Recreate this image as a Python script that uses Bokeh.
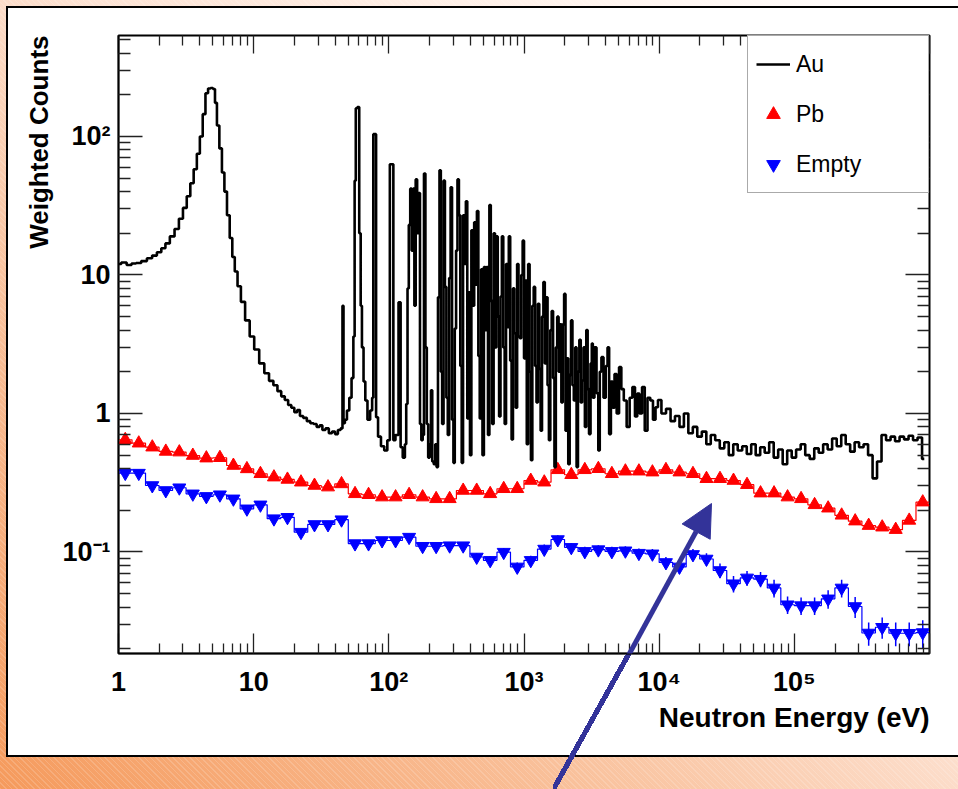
import numpy as np
from bokeh.plotting import figure
from bokeh.models import (LogAxis, FixedTicker, CustomJSTickFormatter, Legend, LegendItem,
                          Arrow, NormalHead, Title, Range1d)
from bokeh.embed import file_html
from bokeh.resources import INLINE

# ---------------- data ----------------
# Au spectrum (energy in eV, weighted counts)
au_energy = [1.0, 1.1, 1.2, 1.3, 1.4, 1.55, 1.7, 1.85, 2.0, 2.15, 2.3, 2.5, 2.7, 2.9, 3.1, 3.3, 3.5, 3.7,
             3.9, 4.1, 4.3, 4.5, 4.7, 4.9, 5.1, 5.25, 5.45, 5.7, 5.95, 6.2, 6.5, 6.8, 7.1, 7.4, 7.8, 8.3,
             9.0, 9.7, 10.5, 11.5, 12.5, 13.5, 14.5, 15.5, 16.5, 17.5, 18.5, 19.5, 20.5, 21.5, 22.5, 24,
             25.5, 27, 28.5, 30, 31.5, 33, 35, 37, 39, 41, 43, 45, 45.8, 46.6, 48, 50, 52, 54, 55.3, 56.4,
             57.5, 59.5, 61.3, 62.5, 64, 66, 68, 71, 74.5, 76, 77.5, 79.5, 81.5, 85, 90, 95, 100, 103.5,
             107, 109, 115, 121, 123.5,
             130, 133, 136, 139, 142, 146, 149, 153, 156, 160, 164, 168, 172, 176, 180, 184, 189, 193,
             198, 203, 207, 212, 218, 223, 228, 234, 240, 245, 251, 257, 263, 270, 276, 283, 290, 297,
             304, 311, 318, 326, 334, 342, 350, 358, 367, 376, 385, 394, 403, 413, 423, 433, 443, 454,
             465, 476, 487, 499, 511, 523, 535, 548, 561, 575, 589, 603, 617, 632, 647, 662, 678, 694,
             711, 728, 745, 763, 781, 800, 819, 838, 858, 879, 900, 921, 943, 966, 989, 1012, 1036,
             1061, 1087, 1113, 1139, 1166, 1194, 1223, 1252, 1282, 1312, 1343, 1375, 1408, 1442, 1476,
             1511, 1547, 1584, 1622, 1660, 1700, 1740, 1782, 1824, 1868, 1912, 1958, 2004, 2052, 2101,
             2151, 2203, 2255, 2309, 2364, 2421, 2478, 2537, 2598, 2660, 2723, 2788, 2855, 2923, 2992,
             3064, 3150, 3200, 3260, 3380, 3500, 3590, 3680, 3800, 3950, 4100, 4200, 4330,
             4460, 4600, 4750, 4950, 5150, 5350, 5600, 5900, 6200, 6480, 6770, 7000, 7300, 7650, 8000,
             8400, 8800, 9200, 9600, 10000, 10800, 11700, 12600, 13600, 14700, 15800, 17100, 18400,
             19900, 21500, 23200, 25000, 27000, 29200, 31500, 34000, 36700, 39600, 42800, 46200,
             49800, 53800, 58100, 62700, 67700, 73100, 78900, 85200, 92000, 99300, 107000, 116000,
             125000, 135000, 146000, 157000, 170000, 183000, 198000, 214000, 231000, 249000, 269000,
             290000, 313000, 338000, 365000, 394000, 425000, 459000, 496000, 535000, 578000, 624000,
             674000, 727000, 785000, 848000, 915000, 988000]
au_counts = [12.0, 12.3, 11.8, 12.1, 12.2, 12.6, 13.2, 13.8, 14.6, 15.6, 16.9, 19.0, 21.5, 25.5, 30.5,
             37, 46, 58, 75, 100, 145, 205, 222, 224, 220, 175, 120, 82, 55, 40, 27, 18.5, 13.5, 10.6,
             8.3, 6.4, 4.7, 3.6, 2.9, 2.3, 1.95, 1.72, 1.6, 1.45, 1.33, 1.25, 1.15, 1.1, 1.02, 1.06,
             0.96, 0.93, 0.88, 0.85, 0.84, 0.80, 0.82, 0.76, 0.78, 0.72, 0.74, 0.71, 0.76, 0.78, 6.0,
             0.85, 0.9, 1.05, 1.3, 1.8, 3.6, 48, 160, 163, 20, 6, 3.0, 1.7, 1.24, 0.9, 1.05, 1.3, 104,
             104, 0.94, 0.68, 0.58, 0.54, 0.64, 63, 63, 0.64, 0.7, 6.35, 0.57,
             0.48, 0.6, 1.17, 8, 23, 42, 15, 42, 6, 49, 20, 39, 0.84, 0.64, 0.7, 54, 3, 0.84,
             0.48, 0.6, 1.47, 0.45, 0.43, 0.6, 0.41, 6.9, 57, 2.0, 0.84, 48, 8.2, 1.3, 0.7, 9.5, 43, 0.9,
             0.44, 4.1, 15, 49, 27, 2.2, 0.44, 27, 12, 34, 0.92, 7.5, 0.5, 21, 6, 24, 8.5, 29,
             2.6, 0.92, 11, 0.5, 11.4, 4, 11.4, 0.7, 32, 6.5, 0.84, 20, 3, 19, 5, 0.95, 7, 19,
             3, 0.84, 12, 4.2, 19, 2.4, 0.65, 8, 3.8, 1.1, 12, 3.6, 3.5, 10, 17.7, 2.5, 9.1,
             0.6, 12, 2, 0.46, 6, 8.2, 2.2, 1.2, 6.2, 2.1, 0.75, 5, 8.9, 2.3, 6.9,
             1.6, 0.64, 4, 5.5, 1.8, 0.41, 3, 5.0, 2.0, 4.4, 1.2, 4.4, 7.3, 0.75, 2.5,
             0.43, 1.9, 4.7, 1.6, 1.24, 3.0, 0.41, 2.0, 3.4, 1.2, 1.73, 3.0, 0.8, 4.0, 1.5,
             0.71, 2.3, 3.2, 1.3, 3.0, 1.4, 0.54, 2.0, 2.55, 1.3, 2.2, 3.0, 0.71, 1.7,
             1.1, 1.93, 1.0, 2.16, 1.5, 1.24, 0.8, 1.3, 1.55, 0.95, 1.39, 1.0, 1.55, 0.75, 1.3, 1.24,
             0.9, 1.11, 1.25, 1.0, 1.08, 0.88, 0.96, 0.8, 1.0, 0.72, 0.8, 0.68, 0.74, 0.6, 0.7, 0.64,
             0.56, 0.62, 0.5, 0.6, 0.54, 0.58, 0.51, 0.6, 0.5, 0.57, 0.52, 0.62, 0.48, 0.55, 0.43,
             0.54, 0.48, 0.55, 0.6, 0.5, 0.47, 0.56, 0.52, 0.6, 0.55, 0.66, 0.58, 0.7, 0.6, 0.53, 0.62,
             0.57, 0.6, 0.5, 0.34, 0.45, 0.7, 0.64, 0.68, 0.63, 0.68, 0.65, 0.69, 0.64, 0.67, 0.47]

# Pb and Empty: 60 logarithmic bins, 10 per decade, from 1 eV to 1 MeV
bin_edges = np.logspace(0, 6, 61)
pb_counts = [0.646, 0.61, 0.571, 0.532, 0.526, 0.497, 0.476, 0.479, 0.421, 0.398,
             0.367, 0.347, 0.334, 0.319, 0.302, 0.294, 0.31, 0.263, 0.259, 0.249,
             0.249, 0.259, 0.249, 0.242, 0.242, 0.278, 0.278, 0.263, 0.286, 0.286,
             0.328, 0.319, 0.392, 0.361, 0.392, 0.399, 0.367, 0.383, 0.383, 0.377,
             0.392, 0.377, 0.367, 0.338, 0.338, 0.328, 0.306, 0.266, 0.266, 0.249,
             0.242, 0.219, 0.207, 0.184, 0.167, 0.155, 0.151, 0.145, 0.169, 0.229]
pb_err = [0.012, 0.012, 0.011, 0.011, 0.011, 0.010, 0.010, 0.010, 0.009, 0.009,
          0.009, 0.008, 0.008, 0.008, 0.008, 0.008, 0.008, 0.007, 0.007, 0.007,
          0.007, 0.007, 0.007, 0.007, 0.007, 0.008, 0.008, 0.007, 0.008, 0.008,
          0.008, 0.008, 0.009, 0.009, 0.009, 0.009, 0.009, 0.009, 0.009, 0.009,
          0.009, 0.009, 0.009, 0.008, 0.008, 0.008, 0.008, 0.007, 0.007, 0.007,
          0.007, 0.007, 0.007, 0.006, 0.006, 0.006, 0.006, 0.006, 0.007, 0.008]
empty_counts = [0.371, 0.371, 0.302, 0.278, 0.291, 0.263, 0.252, 0.259, 0.242, 0.205,
                0.219, 0.174, 0.178, 0.139, 0.158, 0.158, 0.171, 0.115, 0.115, 0.121,
                0.121, 0.128, 0.110, 0.110, 0.111, 0.111, 0.092, 0.087, 0.0997, 0.078,
                0.087, 0.105, 0.123, 0.108, 0.101, 0.104, 0.101, 0.102, 0.098, 0.097,
                0.084, 0.078, 0.096, 0.089, 0.0735, 0.059, 0.065, 0.0636, 0.055, 0.0416,
                0.041, 0.041, 0.0459, 0.055, 0.0404, 0.026, 0.0286, 0.0259, 0.0259, 0.0262]
empty_err = [0.012, 0.012, 0.010, 0.010, 0.010, 0.009, 0.009, 0.009, 0.009, 0.008,
             0.008, 0.007, 0.007, 0.006, 0.007, 0.007, 0.007, 0.006, 0.006, 0.006,
             0.006, 0.007, 0.006, 0.006, 0.006, 0.006, 0.006, 0.006, 0.007, 0.006,
             0.007, 0.008, 0.009, 0.008, 0.008, 0.008, 0.008, 0.008, 0.008, 0.008,
             0.008, 0.008, 0.009, 0.009, 0.009, 0.008, 0.008, 0.008, 0.008, 0.006,
             0.006, 0.006, 0.007, 0.008, 0.007, 0.005, 0.005, 0.005, 0.005, 0.006]

x_major = [1, 10, 100, 1e3, 1e4, 1e5, 1e6]
y_major = [0.1, 1, 10, 100]

# ---------------- figure ----------------
W, H = 958, 789
p = figure(width=W, height=H, x_axis_type="log", y_axis_type="log",
           x_range=Range1d(1, 1e6), y_range=Range1d(0.01849, 536),
           output_backend="svg", toolbar_location=None,
           min_border_left=118, min_border_right=29, min_border_top=35, min_border_bottom=136)
p.border_fill_color = None
p.background_fill_color = "white"
p.outline_line_color = "black"
p.outline_line_width = 2
p.grid.visible = False

# page decoration (slide background, white panel with black frame, lower part of the arrow shaft)
p.styles = {
    "background": (
        "linear-gradient(to bottom right, rgba(51,51,153,0) calc(50% - 2.6px), #333399 calc(50% - 2.6px), "
        "#333399 calc(50% + 2.6px), rgba(51,51,153,0) calc(50% + 2.6px)) 553px 650px / 78px 140px no-repeat, "
        "linear-gradient(#ffffff, #ffffff) 8px 8px / 1000px 747px no-repeat, "
        "linear-gradient(#000000, #000000) 6px 6px / 1000px 751px no-repeat, "
        "repeating-linear-gradient(45deg, rgba(255,255,255,0.16) 0px, rgba(255,255,255,0.16) 1px, "
        "rgba(255,255,255,0) 1px, rgba(255,255,255,0) 4px), "
        "linear-gradient(to top right, #f59a5c 0%, #f9c09a 30%, #fde3d4 55%, #fff4ee 80%, #ffffff 100%)"
    )
}

minor_x = [m * 10 ** d for d in range(0, 6) for m in range(2, 10)]
minor_y = [m * 10 ** d for d in range(-2, 3) for m in range(2, 10)]
xt = FixedTicker(ticks=x_major, minor_ticks=minor_x)
yt = FixedTicker(ticks=y_major, minor_ticks=minor_y)

fmt = CustomJSTickFormatter(code="""
const e = Math.round(Math.log10(tick));
const sup = {"-1": "\u207b\u00b9", "2": "\u00b2", "3": "\u00b3", "4": "\u2074", "5": "\u2075"};
if (e === 0) return "1";
if (e === 1) return "10";
if (e >= 6) return "";
return "10" + sup[String(e)];
""")
blank = CustomJSTickFormatter(code="return '';")

xa = p.xaxis[0]
ya = p.yaxis[0]
xa.ticker = xt
ya.ticker = yt
for ax in (xa, ya):
    ax.formatter = fmt
    ax.major_label_text_font = "Liberation Sans"
    ax.major_label_text_font_style = "bold"
    ax.major_label_text_font_size = "27px"
    ax.major_label_text_color = "black"
    ax.axis_line_color = "black"
    ax.axis_line_width = 1.5
    ax.major_tick_line_color = "#222222"
    ax.minor_tick_line_color = "#222222"
    ax.major_tick_line_width = 1.3
    ax.minor_tick_line_width = 1.3
    ax.major_tick_out = 0
    ax.minor_tick_out = 0
xa.major_tick_in = 20
xa.minor_tick_in = 10
xa.major_label_standoff = 13
ya.major_tick_in = 24
ya.minor_tick_in = 12
ya.major_label_standoff = 8

top = LogAxis(ticker=xt, formatter=blank, major_tick_in=18, minor_tick_in=10, major_tick_out=0,
              minor_tick_out=0, major_label_text_font_size="1px", axis_line_color=None,
              major_tick_line_color="#222222", minor_tick_line_color="#222222",
              major_tick_line_width=1.3, minor_tick_line_width=1.3, major_label_standoff=0)
right = LogAxis(ticker=yt, formatter=blank, major_tick_in=24, minor_tick_in=12, major_tick_out=0,
                minor_tick_out=0, major_label_text_font_size="1px", axis_line_color=None,
                major_tick_line_color="#222222", minor_tick_line_color="#222222",
                major_tick_line_width=1.3, minor_tick_line_width=1.3, major_label_standoff=0)
p.add_layout(top, "above")
p.add_layout(right, "right")

# axis titles (ROOT style: aligned to the end of the axis)
p.add_layout(Title(text="Weighted Counts", align="right", standoff=12,
                   text_font="Liberation Sans", text_font_style="bold", text_font_size="26px",
                   text_color="black"), "left")
p.add_layout(Title(text="Neutron Energy (eV)", align="right", standoff=0,
                   text_font="Liberation Sans", text_font_style="bold", text_font_size="28px",
                   text_color="black"), "below")

# ---------------- glyphs ----------------
edges = np.asarray(bin_edges)
centers = np.sqrt(edges[:-1] * edges[1:])
step_x = np.repeat(edges, 2)[1:-1]

pb = np.asarray(pb_counts)
pbe = np.asarray(pb_err)
em = np.asarray(empty_counts)
eme = np.asarray(empty_err)

p.line(step_x, np.repeat(pb, 2), line_color="red", line_width=1.2)
p.segment(centers, pb - pbe, centers, pb + pbe, line_color="red", line_width=1.5)
pb_pts = p.scatter(centers, pb, marker="triangle", size=13, fill_color="red", line_color="red")

p.line(step_x, np.repeat(em, 2), line_color="blue", line_width=1.2)
p.segment(centers, em - eme, centers, em + eme, line_color="blue", line_width=1.5)
em_pts = p.scatter(centers, em, marker="inverted_triangle", size=13, fill_color="blue", line_color="blue")

au_r = p.step(au_energy, au_counts, mode="center", line_color="black", line_width=2.6)

# ---------------- legend ----------------
legend = Legend(items=[LegendItem(label="Au", renderers=[au_r]),
                       LegendItem(label="Pb", renderers=[pb_pts]),
                       LegendItem(label="Empty", renderers=[em_pts])],
                location="top_right", margin=0, padding=8, spacing=10,
                glyph_height=40, glyph_width=34, label_standoff=6, label_width=124,
                label_text_font="Liberation Sans", label_text_font_size="23px",
                label_text_color="black",
                border_line_color="#555555", border_line_width=1.5,
                background_fill_color="white", background_fill_alpha=1.0)
p.add_layout(legend)

arrow = Arrow(x_start=553, y_start=792, x_end=711, y_end=503,
              start_units="canvas", end_units="canvas",
              line_color="#333399", line_width=5,
              end=NormalHead(size=32, fill_color="#333399", line_color="#333399"))
p.add_layout(arrow)

open("out.html", "w").write(file_html(p, INLINE))
